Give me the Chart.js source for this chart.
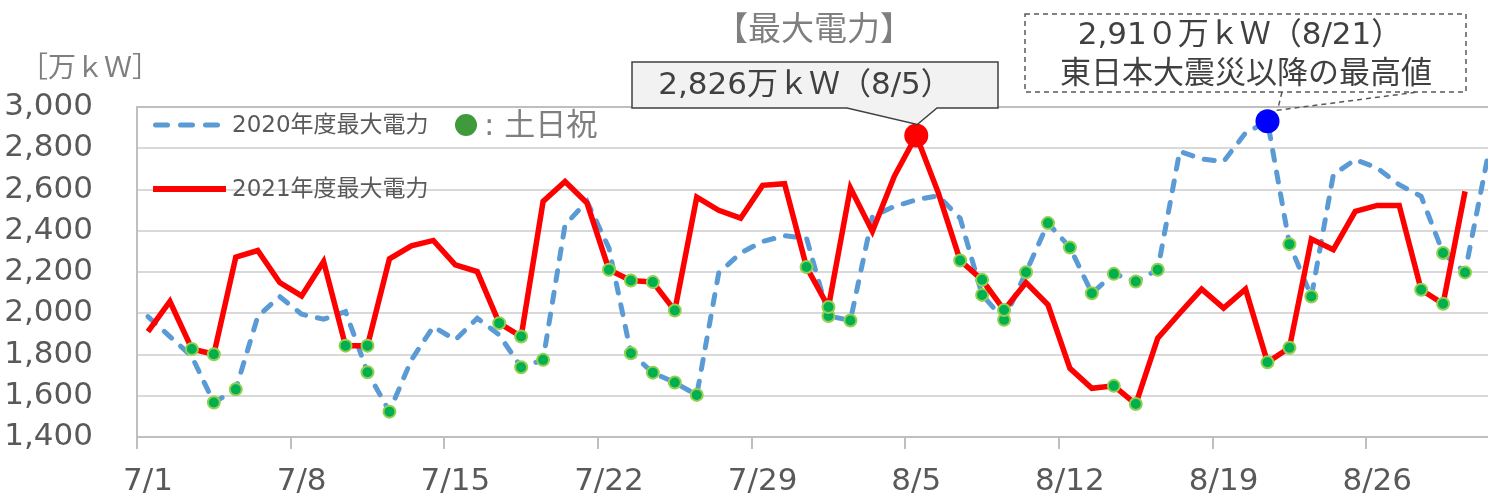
<!DOCTYPE html>
<html lang="ja">
<head>
<meta charset="utf-8">
<title>最大電力</title>
<script src="https://cdn.jsdelivr.net/npm/chart.js@4.4.1/dist/chart.umd.min.js"></script>
<style>
html, body { margin: 0; padding: 0; background: #fff; overflow: hidden; }
#wrap { width: 1501px; height: 500px; }
</style>
</head>
<body>
<div id="wrap"><canvas id="c" width="1501" height="500"></canvas></div>
<script>
var FONT = '"DejaVu Sans", "Noto Sans CJK JP", sans-serif';

// 日付（7/1〜8/31）
var days = [
  '7/1','7/2','7/3','7/4','7/5','7/6','7/7','7/8','7/9','7/10',
  '7/11','7/12','7/13','7/14','7/15','7/16','7/17','7/18','7/19','7/20',
  '7/21','7/22','7/23','7/24','7/25','7/26','7/27','7/28','7/29','7/30',
  '7/31','8/1','8/2','8/3','8/4','8/5','8/6','8/7','8/8','8/9',
  '8/10','8/11','8/12','8/13','8/14','8/15','8/16','8/17','8/18','8/19',
  '8/20','8/21','8/22','8/23','8/24','8/25','8/26','8/27','8/28','8/29',
  '8/30','8/31'
];

// 最大電力 [万kW]
var max2020 = [
  1984, 1887, 1790, 1567, 1631, 1984, 2081, 1995, 1971, 2008,
  1714, 1523, 1774, 1935, 1871, 1976, 1895, 1738, 1774, 2429,
  2542, 2316, 1806, 1712, 1664, 1604, 2195, 2292, 2348, 2376,
  2364, 1987, 1965, 2469, 2518, 2550, 2570, 2460, 2089, 1968,
  2199, 2437, 2319, 2097, 2191, 2154, 2211, 2785, 2748, 2736,
  2874, 2931, 2335, 2081, 2672, 2745, 2704, 2623, 2567, 2292,
  2198, 2740
];
var max2021 = [
  1911, 2057, 1827, 1801, 2272, 2304, 2149, 2084, 2251, 1843,
  1843, 2264, 2327, 2353, 2235, 2202, 1952, 1887, 2542, 2639,
  2534, 2211, 2159, 2151, 2013, 2563, 2499, 2461, 2620, 2628,
  2224, 2030, 2607, 2397, 2664, 2862, 2585, 2256, 2162, 2016,
  2149, 2041, 1733, 1636, 1648, 1560, 1879, 2000, 2117, 2025,
  2117, 1762, 1833, 2360, 2308, 2494, 2523, 2523, 2114, 2046,
  2591, null
];

// 土日祝
var holidays2020 = ['7/4','7/5','7/11','7/12','7/18','7/19','7/23','7/24','7/25','7/26',
  '8/1','8/2','8/8','8/9','8/10','8/11','8/12','8/13','8/14','8/15','8/16',
  '8/22','8/23','8/29','8/30'];
var holidays2021 = ['7/3','7/4','7/10','7/11','7/17','7/18','7/22','7/23','7/24','7/25',
  '7/31','8/1','8/7','8/8','8/9','8/14','8/15','8/21','8/22','8/28','8/29'];

var peak2020 = '8/21';
var peak2021 = '8/5';
var yMin = 1400, yMax = 3000, yStep = 200;

function pointStyles(holidays, peakDay, peakColor) {
  var s = { r: [], bg: [], bd: [], bw: [] };
  days.forEach(function(d) {
    if (d === peakDay) {
      s.r.push(12); s.bg.push(peakColor); s.bd.push(peakColor); s.bw.push(0);
    } else if (holidays.indexOf(d) >= 0) {
      s.r.push(6); s.bg.push('#00b050'); s.bd.push('#92d050'); s.bw.push(2);
    } else {
      s.r.push(0); s.bg.push('rgba(0,0,0,0)'); s.bd.push('rgba(0,0,0,0)'); s.bw.push(0);
    }
  });
  return s;
}

var p20 = pointStyles(holidays2020, peak2020, '#0000ff');
var p21 = pointStyles(holidays2021, peak2021, '#ff0000');

// 凡例・注記・タイトル
var notes = {
  id: 'notes',
  afterDraw: function(chart) {
    var ctx = chart.ctx;
    ctx.save();

    // タイトル・単位
    ctx.textBaseline = 'middle';
    ctx.fillStyle = '#7f7f7f';
    ctx.textAlign = 'center';
    ctx.font = '33px ' + FONT;
    ctx.fillText('【最大電力】', 814, 31);
    ctx.textAlign = 'left';
    ctx.font = '28px ' + FONT;
    ctx.fillText('［万ｋＷ］', 20, 70);

    // 凡例
    ctx.lineWidth = 5;
    ctx.lineCap = 'round';
    ctx.strokeStyle = '#5b9bd5';
    ctx.setLineDash([12, 13]);
    ctx.beginPath(); ctx.moveTo(155.5, 125); ctx.lineTo(218, 125); ctx.stroke();
    ctx.setLineDash([]);
    ctx.lineCap = 'butt';
    ctx.lineWidth = 6;
    ctx.strokeStyle = '#ff0000';
    ctx.beginPath(); ctx.moveTo(153, 189); ctx.lineTo(226, 189); ctx.stroke();
    ctx.fillStyle = '#595959';
    ctx.font = '23px ' + FONT;
    ctx.fillText('2020年度最大電力', 232, 126);
    ctx.fillText('2021年度最大電力', 232, 190);
    ctx.fillStyle = '#3e9a3a';
    ctx.beginPath(); ctx.arc(466, 125, 11, 0, Math.PI * 2); ctx.fill();
    ctx.fillStyle = '#7f7f7f';
    ctx.font = '31px ' + FONT;
    ctx.fillText(': 土日祝', 484, 127);

    // 2021年度ピーク
    var m21 = chart.getDatasetMeta(1).data[days.indexOf(peak2021)];
    var tipX = m21.x + 1, tipY = m21.y - 11;
    ctx.beginPath();
    ctx.moveTo(632, 62); ctx.lineTo(998, 62); ctx.lineTo(998, 108);
    ctx.lineTo(937, 108); ctx.lineTo(tipX, tipY); ctx.lineTo(847, 108);
    ctx.lineTo(632, 108); ctx.closePath();
    ctx.fillStyle = '#f2f2f2';
    ctx.fill();
    ctx.lineWidth = 1.5;
    ctx.strokeStyle = '#404040';
    ctx.stroke();
    ctx.fillStyle = '#404040';
    ctx.textAlign = 'center';
    ctx.font = '31px ' + FONT;
    ctx.fillText('2,826万ｋＷ（8/5）', 805, 86);

    // 2020年度ピーク
    var m20 = chart.getDatasetMeta(0).data[days.indexOf(peak2020)];
    var tx = m20.x + 10, ty = m20.y - 11;
    ctx.fillStyle = '#ffffff';
    ctx.fillRect(1025, 14, 441, 78);
    ctx.setLineDash([5, 4]);
    ctx.strokeStyle = '#595959';
    ctx.strokeRect(1025, 14, 441, 78);
    ctx.beginPath();
    ctx.moveTo(1282, 92); ctx.lineTo(tx, ty); ctx.lineTo(1418, 92);
    ctx.stroke();
    ctx.setLineDash([]);
    ctx.fillStyle = '#404040';
    ctx.font = '31px ' + FONT;
    ctx.fillText('2,91０万ｋＷ（8/21）', 1240, 36);
    ctx.fillText('東日本大震災以降の最高値', 1246, 75);

    ctx.restore();
  }
};

new Chart(document.getElementById('c'), {
  type: 'line',
  data: {
    labels: days,
    datasets: [
      {
        label: '2020年度最大電力', data: max2020,
        borderColor: '#5b9bd5', borderWidth: 5, borderDash: [10, 12], borderCapStyle: 'round',
        tension: 0, order: 1,
        pointRadius: p20.r, pointBackgroundColor: p20.bg, pointBorderColor: p20.bd, pointBorderWidth: p20.bw
      },
      {
        label: '2021年度最大電力', data: max2021,
        borderColor: '#ff0000', borderWidth: 5.5, tension: 0, order: 0,
        pointRadius: p21.r, pointBackgroundColor: p21.bg, pointBorderColor: p21.bd, pointBorderWidth: p21.bw
      }
    ]
  },
  options: {
    responsive: false,
    devicePixelRatio: 1,
    animation: false,
    events: [],
    layout: { padding: { top: 107, left: 0, right: 0, bottom: 0 } },
    plugins: {
      legend: { display: false },
      tooltip: { enabled: false },
      title: { display: false }
    },
    scales: {
      x: {
        type: 'category',
        offset: true,
        afterFit: function(s) { s.height = 63; },
        grid: {
          offset: true,
          drawOnChartArea: false,
          drawTicks: true,
          tickLength: 12,
          lineWidth: 2,
          color: function(c) { return c.index % 7 === 0 ? '#bfbfbf' : 'rgba(0,0,0,0)'; }
        },
        border: { display: true, color: '#bfbfbf', width: 2 },
        ticks: {
          autoSkip: false, maxRotation: 0, padding: 14,
          color: '#595959', font: { family: FONT, size: 31 },
          callback: function(v, i) { return i % 7 === 0 ? days[i] : ''; }
        }
      },
      y: {
        min: yMin, max: yMax,
        afterFit: function(s) { s.width = 137; },
        grid: {
          drawTicks: false,
          lineWidth: 2,
          color: function(c) { return c.tick && c.tick.value === yMax ? '#bfbfbf' : '#d9d9d9'; }
        },
        border: { display: true, color: '#bfbfbf', width: 2 },
        ticks: {
          stepSize: yStep, padding: 44,
          color: '#595959', font: { family: FONT, size: 31 },
          callback: function(v) { return v.toLocaleString('en-US'); }
        }
      }
    }
  },
  plugins: [notes]
});
</script>
</body>
</html>
